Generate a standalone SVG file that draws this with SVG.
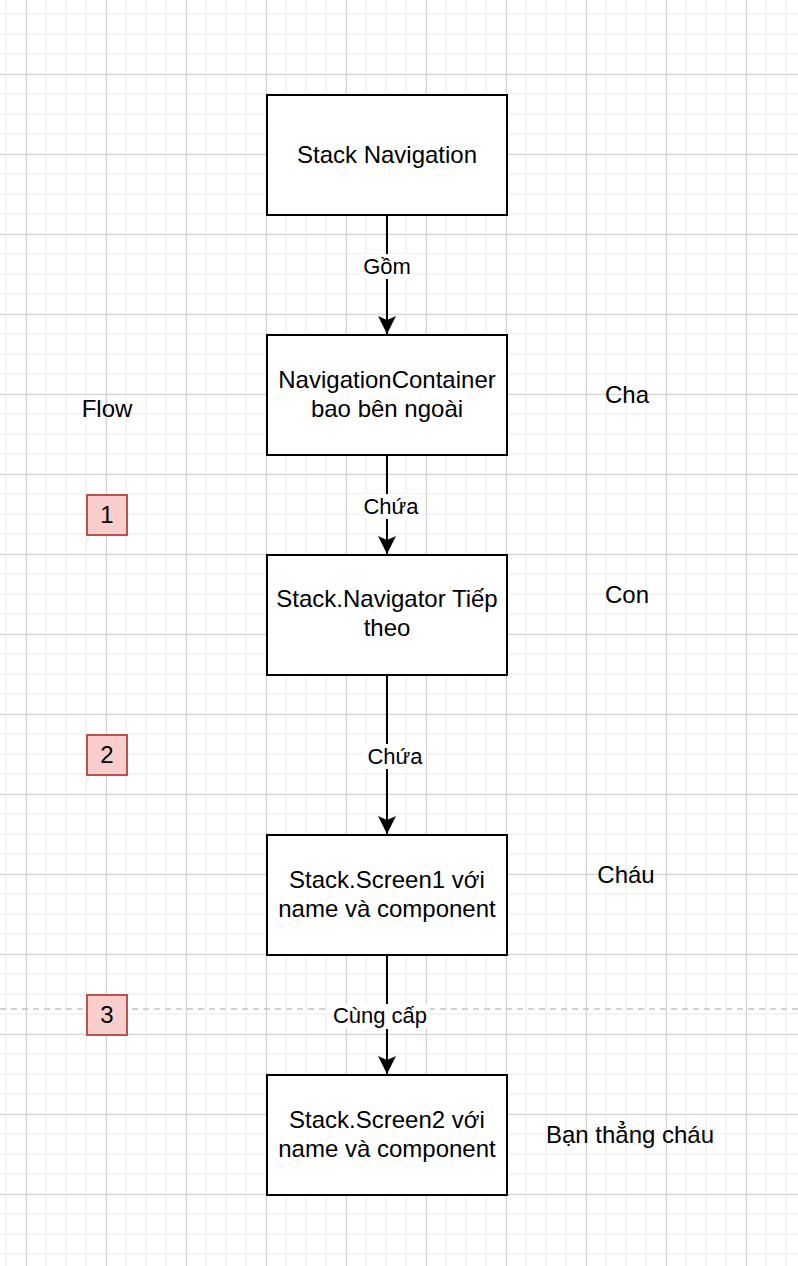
<svg xmlns="http://www.w3.org/2000/svg" width="798" height="1266" viewBox="0 0 798 1266">
<style>
text{font-family:"Liberation Sans",Arial,Helvetica,sans-serif;fill:#000;text-anchor:middle}
.node rect{fill:#fff;stroke:#000;stroke-width:2}
.nt{font-size:24px}
.el{font-size:22px}
.lb{fill:#fff;stroke:none}
.num rect{fill:#f8cecc;stroke:#b85450;stroke-width:2}
.edge{stroke:#000;stroke-width:2;fill:none}
</style>
<defs>
<pattern id="minor" patternUnits="userSpaceOnUse" width="20" height="20">
<line x1="6" y1="0" x2="6" y2="20" stroke="#f4f4f4" stroke-width="2"/>
<line x1="0" y1="14" x2="20" y2="14" stroke="#f4f4f4" stroke-width="2"/>
</pattern>
<pattern id="major" patternUnits="userSpaceOnUse" width="80" height="80">
<line x1="26.5" y1="0" x2="26.5" y2="80" stroke="#d3d3d3" stroke-width="1"/>
<line x1="0" y1="74.5" x2="80" y2="74.5" stroke="#d3d3d3" stroke-width="1"/>
</pattern>
<marker id="arr" markerUnits="userSpaceOnUse" markerWidth="20" markerHeight="20" viewBox="0 0 20 18" refX="19" refY="9" orient="auto">
<path d="M19,9 L1,0 L5,9 L1,18 Z" fill="#000"/>
</marker>
</defs>
<rect width="798" height="1266" fill="#fff"/>
<rect width="798" height="1266" fill="url(#minor)"/>
<rect width="798" height="1266" fill="url(#major)"/>
<line x1="0" y1="1009" x2="798" y2="1009" stroke="#c2c2c2" stroke-width="1.5" stroke-dasharray="6 5"/>

<g id="connectors">
<line class="edge" x1="387" y1="215" x2="387" y2="334" marker-end="url(#arr)"/>
<line class="edge" x1="387" y1="455" x2="387" y2="554" marker-end="url(#arr)"/>
<line class="edge" x1="387" y1="675" x2="387" y2="834" marker-end="url(#arr)"/>
<line class="edge" x1="387" y1="955" x2="387" y2="1074" marker-end="url(#arr)"/>
<rect class="lb" x="361" y="254" width="52" height="25"/>
<text class="el" x="387" y="274">Gồm</text>
<rect class="lb" x="360" y="494" width="62" height="25"/>
<text class="el" x="391" y="514">Chứa</text>
<rect class="lb" x="364" y="744" width="62" height="25"/>
<text class="el" x="395" y="764">Chứa</text>
<rect class="lb" x="330" y="1004" width="100" height="25"/>
<text class="el" x="380" y="1023">Cùng cấp</text>
</g>

<g id="n1" class="node"><rect x="267" y="95" width="240" height="120"/><text class="nt" x="387" y="163">Stack Navigation</text></g>
<g id="n2" class="node"><rect x="267" y="335" width="240" height="120"/><text class="nt" x="387" y="387.5">NavigationContainer</text><text class="nt" x="387" y="416.5">bao bên ngoài</text></g>
<g id="n3" class="node"><rect x="267" y="555" width="240" height="120"/><text class="nt" x="387" y="607">Stack.Navigator Tiếp</text><text class="nt" x="387" y="636">theo</text></g>
<g id="n4" class="node"><rect x="267" y="835" width="240" height="120"/><text class="nt" x="387" y="887.5">Stack.Screen1 với</text><text class="nt" x="387" y="916.5">name và component</text></g>
<g id="n5" class="node"><rect x="267" y="1075" width="240" height="120"/><text class="nt" x="387" y="1127.5">Stack.Screen2 với</text><text class="nt" x="387" y="1156.5">name và component</text></g>

<g id="b1" class="num"><rect x="87" y="495" width="40" height="40"/><text class="nt" x="107" y="523">1</text></g>
<g id="b2" class="num"><rect x="87" y="735" width="40" height="40"/><text class="nt" x="107" y="763">2</text></g>
<g id="b3" class="num"><rect x="87" y="995" width="40" height="40"/><text class="nt" x="107" y="1023">3</text></g>

<g id="lblFlow"><text class="nt" x="107" y="416.5">Flow</text></g>
<g id="lblCha"><text class="nt" x="627" y="403">Cha</text></g>
<g id="lblCon"><text class="nt" x="627" y="603">Con</text></g>
<g id="lblChau"><text class="nt" x="626" y="883">Cháu</text></g>
<g id="lblBan"><text class="nt" x="630" y="1143">Bạn thẳng cháu</text></g>
</svg>
